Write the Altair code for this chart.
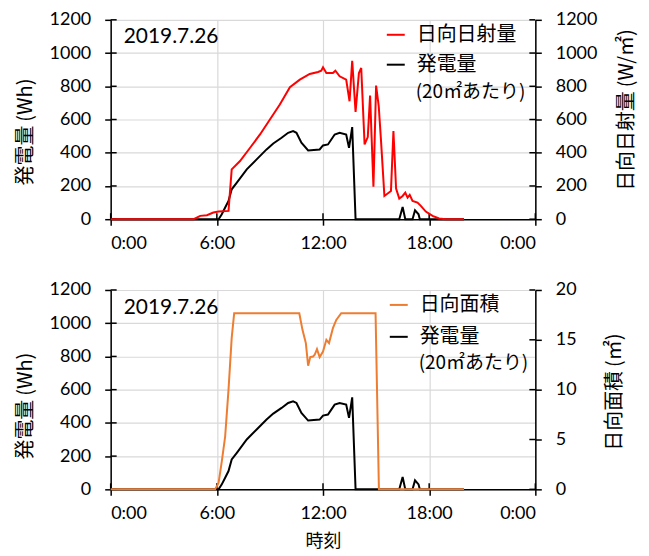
import altair as alt
import pandas as pd

# ---- data ----
irr_hours = [0, 4.69, 5.06, 5.44, 5.8, 6.1, 6.66, 6.84, 7.31, 7.88, 8.44, 9.0, 9.56, 10.13, 10.69,
             11.25, 11.72, 11.9, 12.0, 12.19, 12.56, 12.7, 12.94, 13.31, 13.5, 13.65, 13.84, 14.03,
             14.16, 14.35, 14.53, 14.66, 14.85, 15.0, 15.15, 15.28, 15.47, 15.84, 15.98, 16.13,
             16.31, 16.5, 16.65, 16.78, 16.9, 17.06, 17.34, 17.53, 17.81, 18.19, 18.56, 18.94, 19.97]
irradiance = [0, 0, 20, 24, 40, 46, 50, 300, 350, 430, 510, 600, 690, 794, 840,
              874, 886, 894, 914, 880, 880, 894, 860, 840, 710, 954, 646, 880,
              910, 450, 494, 744, 196, 804, 680, 470, 140, 170, 530, 184,
              124, 140, 160, 130, 146, 110, 100, 80, 46, 20, 4, 0, 0]

pow_hours = [0, 6.1, 6.28, 6.47, 6.66, 6.84, 7.13, 7.69, 8.25, 8.81, 9.19, 9.66, 10.03, 10.31,
             10.5, 10.78, 11.16, 11.81, 12.0, 12.28, 12.66, 12.94, 13.31, 13.47, 13.53, 13.65,
             13.84, 16.31, 16.5, 16.65, 17.06, 17.2, 17.4, 17.47, 19.97]
power = [0, 0, 30, 70, 110, 180, 220, 300, 360, 420, 456, 490, 520, 530,
         520, 460, 414, 420, 444, 450, 510, 520, 510, 430, 470, 554,
         0, 0, 74, 0, 0, 54, 30, 0, 0]

area_hours = [0, 5.9, 6.1, 6.28, 6.47, 6.66, 6.84, 6.98, 10.66, 10.84, 11.03, 11.16, 11.28, 11.44,
              11.53, 11.66, 11.81, 12.0, 12.19, 12.34, 12.56, 12.75, 13.03, 14.97, 15.16, 19.97]
area = [0, 0, 0.67, 2.8, 5.3, 10, 15.2, 17.67, 17.67, 16, 14.67, 12.4, 13.27, 13.33,
        13.5, 14.07, 13.27, 13.83, 15, 14.67, 16.17, 17, 17.67, 17.67, 0, 0]

x_ticks = [0, 6, 12, 18, 24]
left_ticks = [0, 200, 400, 600, 800, 1000, 1200]
right_ticks_top = [0, 200, 400, 600, 800, 1000, 1200]
right_ticks_bottom = [0, 5, 10, 15, 20]

date_label = "2019.7.26"
per_area = "(20㎡あたり)"

JP = "Noto Sans CJK JP"
NUM = "Lato"
W, H = 426, 200

power_df = pd.DataFrame({"t": pow_hours, "v": power})
irr_df = pd.DataFrame({"t": irr_hours, "v": irradiance})
area_df = pd.DataFrame({"t": area_hours, "v": area})

one = alt.Data(values=[{}])


def panel(color_df, color, rdomain, rticks, rtitle, rtitle_x, rtitle_y, ltitle_y,
          legend_label, show_x_title, leg):
    xaxis = alt.Axis(values=x_ticks, labelExpr="datum.value == 24 ? '0:00' : datum.value + ':00'",
                     grid=True, gridColor="#d9d9d9", gridWidth=1.2,
                     domainColor="black", domainWidth=1.5, tickColor="black", tickWidth=1.5,
                     tickSize=6, labelFont=NUM, labelFontSize=18, labelColor="black",
                     labelPadding=9,
                     title="時刻" if show_x_title else None,
                     titleFont=JP, titleFontSize=18, titleFontWeight="normal",
                     titleColor="black", titlePadding=10)
    xscale = alt.Scale(domain=[0, 24], nice=False, zero=False)
    lscale = alt.Scale(domain=[0, 1200], nice=False)
    rscale = alt.Scale(domain=rdomain, nice=False)
    laxis = alt.Axis(values=left_ticks, format="d", grid=True, gridColor="#d9d9d9", gridWidth=1.2,
                     domainColor="black", domainWidth=1.5, tickColor="black", tickWidth=1.5,
                     tickSize=6, labelFont=NUM, labelFontSize=18, labelColor="black",
                     labelPadding=14, title="発電量\u2009(Wh)", titleFont=JP, titleFontSize=20,
                     titleFontWeight="normal", titleColor="black", titleAngle=270,
                     titleX=-85, titleY=ltitle_y, titleAlign="center", titleBaseline="middle")
    raxis = alt.Axis(values=rticks, format="d", grid=False, orient="right",
                     domainColor="black", domainWidth=1.5, tickColor="black", tickWidth=1.5,
                     tickSize=6, labelFont=NUM, labelFontSize=18, labelColor="black",
                     labelPadding=14, title=rtitle, titleFont=JP, titleFontSize=20,
                     titleFontWeight="normal", titleColor="black", titleAngle=270,
                     titleX=rtitle_x, titleY=rtitle_y, titleAlign="center", titleBaseline="middle")

    black = alt.Chart(power_df).mark_line(color="black", strokeWidth=2).encode(
        x=alt.X("t:Q", scale=xscale, axis=xaxis),
        y=alt.Y("v:Q", scale=lscale, axis=laxis))
    lt = alt.Chart(pd.DataFrame({"v": left_ticks})).mark_rule(color="black", strokeWidth=1.5).encode(
        x=alt.value(0), x2=alt.value(6), y=alt.Y("v:Q", scale=lscale, axis=laxis))
    xt = alt.Chart(pd.DataFrame({"t": x_ticks})).mark_rule(color="black", strokeWidth=1.5).encode(
        x=alt.X("t:Q", scale=xscale, axis=xaxis), y=alt.value(H), y2=alt.value(H - 6))
    left = alt.layer(black, lt, xt)

    col = alt.Chart(color_df).mark_line(color=color, strokeWidth=2).encode(
        x=alt.X("t:Q", scale=xscale, axis=xaxis),
        y=alt.Y("v:Q", scale=rscale, axis=raxis))
    rt = alt.Chart(pd.DataFrame({"v": rticks})).mark_rule(color="black", strokeWidth=1.5).encode(
        x=alt.value(W - 6), x2=alt.value(W), y=alt.Y("v:Q", scale=rscale, axis=raxis))
    right = alt.layer(col, rt)

    date = alt.Chart(one).mark_text(text=date_label, align="left", baseline="middle",
                                    font=NUM, fontSize=21, color="black").encode(
        x=alt.value(13), y=alt.value(leg[4]))
    l1 = alt.Chart(one).mark_rule(color=color, strokeWidth=2).encode(
        x=alt.value(leg[0]), x2=alt.value(leg[0] + 18), y=alt.value(leg[1]))
    t1 = alt.Chart(one).mark_text(text=legend_label, align="left", baseline="middle",
                                  font=JP, fontSize=20, color="black").encode(
        x=alt.value(leg[0] + 30), y=alt.value(leg[1]))
    l2 = alt.Chart(one).mark_rule(color="black", strokeWidth=2).encode(
        x=alt.value(leg[0]), x2=alt.value(leg[0] + 18), y=alt.value(leg[2]))
    t2 = alt.Chart(one).mark_text(text="発電量", align="left", baseline="middle",
                                  font=JP, fontSize=20, color="black").encode(
        x=alt.value(leg[0] + 30), y=alt.value(leg[2]))
    t3 = alt.Chart(one).mark_text(text=per_area, align="left", baseline="middle",
                                  font=JP, fontSize=19, color="black").encode(
        x=alt.value(leg[0] + 29), y=alt.value(leg[3]))

    return alt.layer(left, right, date, l1, t1, l2, t2, t3).resolve_scale(
        y="independent").properties(width=W, height=H)


top = panel(irr_df, "#ff0000", [0, 1200], right_ticks_top, "日向日射量\u2009(W/㎡)", 91, 90, 112,
            "日向日射量", False, (277, 15, 45, 72, 17))
bottom = panel(area_df, "#ed7d31", [0, 20], right_ticks_bottom, "日向面積\u2009(㎡)", 79, 102, 116,
               "日向面積", True, (280, 15, 47, 73, 18))

chart = alt.vconcat(top, bottom, spacing=29).configure_view(stroke=None).properties(
    padding={"left": 8, "top": 2, "right": 5, "bottom": 5}, background="white")

chart.save("out.html", embed_options={"renderer": "svg", "actions": False})
